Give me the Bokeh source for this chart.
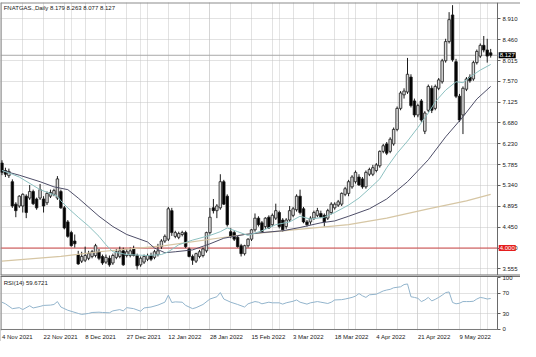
from bokeh.plotting import figure
from bokeh.layouts import column
from bokeh.models import (Range1d, FixedTicker, Grid, Span, Label, ColumnDataSource,
                          PrintfTickFormatter, BoxAnnotation)
from bokeh.embed import file_html
from bokeh.resources import INLINE

# ---------------- data ----------------
opens = [5.82, 5.66, 5.55, 5.42, 4.94, 4.90, 4.90, 5.11, 5.07, 5.21,
         5.05, 5.07, 5.05, 4.97, 5.11, 5.15, 5.07, 5.21, 4.86, 4.56,
         4.33, 4.15, 3.86, 3.72, 3.74, 3.78, 3.82, 3.84, 3.92, 3.82,
         3.70, 3.78, 3.68, 3.80, 3.82, 3.94, 3.84, 3.84, 3.98, 3.84,
         3.64, 3.70, 3.76, 3.84, 3.80, 3.86, 4.03, 4.15, 4.19, 4.80,
         4.25, 4.23, 4.29, 4.33, 3.98, 3.82, 3.72, 3.82, 3.84, 3.94,
         4.33, 4.86, 4.80, 4.86, 5.42, 5.11, 4.35, 4.33, 4.23, 4.05,
         3.88, 4.05, 4.19, 4.39, 4.64, 4.54, 4.46, 4.66, 4.50, 4.64,
         4.76, 4.60, 4.46, 4.60, 4.70, 4.82, 5.11, 4.84, 4.56, 4.56,
         4.64, 4.70, 4.74, 4.70, 4.64, 4.76, 4.86, 4.92, 4.94, 5.15,
         5.17, 5.31, 5.42, 5.52, 5.48, 5.31, 5.58, 5.58, 5.66, 5.76,
         6.07, 6.23, 6.07, 6.23, 6.54, 6.99, 7.28, 7.34, 7.66, 7.15,
         6.85, 7.15, 6.50, 6.95, 7.42, 6.99, 7.42, 7.56, 8.01, 8.42,
         8.99, 7.99, 7.25, 6.85, 7.40, 7.66, 7.62, 7.97, 8.11, 8.34,
         8.24, 8.179]
highs = [5.88, 5.72, 5.70, 5.47, 4.98, 5.13, 5.17, 5.15, 5.35, 5.25,
         5.08, 5.37, 5.11, 5.21, 5.25, 5.27, 5.54, 5.25, 4.90, 4.60,
         4.37, 4.29, 3.94, 3.92, 4.03, 3.94, 3.96, 4.09, 3.98, 3.86,
         3.86, 3.84, 3.88, 3.98, 4.03, 4.01, 3.98, 4.01, 4.05, 3.88,
         3.82, 3.86, 3.88, 3.90, 3.96, 4.09, 4.19, 4.29, 4.88, 4.86,
         4.37, 4.35, 4.37, 4.37, 4.01, 3.86, 3.90, 3.96, 4.01, 4.35,
         4.86, 5.05, 4.94, 5.58, 5.46, 5.15, 4.43, 4.37, 4.27, 4.09,
         4.07, 4.21, 4.41, 4.74, 4.68, 4.58, 4.66, 4.70, 4.74, 4.95,
         4.80, 4.64, 4.64, 4.90, 4.88, 5.15, 5.25, 4.88, 4.60, 4.68,
         4.80, 4.86, 4.80, 4.74, 4.84, 4.98, 4.98, 5.03, 5.19, 5.31,
         5.46, 5.56, 5.66, 5.58, 5.52, 5.66, 5.72, 5.78, 5.82, 6.09,
         6.23, 6.27, 6.37, 6.58, 7.03, 7.36, 7.42, 8.07, 7.72, 7.20,
         7.09, 7.19, 6.93, 7.50, 7.48, 7.50, 7.64, 8.05, 8.48, 9.05,
         9.20, 8.05, 7.30, 7.46, 7.66, 7.72, 8.01, 8.25, 8.38, 8.54,
         8.48, 8.263]
lows = [5.56, 5.52, 5.50, 4.86, 4.66, 4.86, 4.76, 4.64, 5.03, 4.92,
        4.82, 5.03, 4.76, 4.92, 5.07, 5.11, 5.03, 4.84, 4.40, 4.22,
        4.03, 4.01, 3.64, 3.68, 3.70, 3.74, 3.78, 3.80, 3.74, 3.64,
        3.66, 3.60, 3.64, 3.76, 3.78, 3.62, 3.80, 3.80, 3.82, 3.54,
        3.60, 3.66, 3.72, 3.72, 3.76, 3.82, 3.98, 4.11, 4.15, 4.26,
        4.21, 4.19, 4.25, 4.00, 3.80, 3.64, 3.68, 3.78, 3.80, 3.90,
        4.29, 4.74, 4.64, 4.82, 4.92, 4.46, 4.21, 4.15, 4.01, 3.82,
        3.84, 4.01, 4.15, 4.35, 4.46, 4.33, 4.41, 4.41, 4.46, 4.60,
        4.42, 4.35, 4.41, 4.56, 4.66, 4.78, 4.72, 4.53, 4.46, 4.50,
        4.60, 4.66, 4.64, 4.46, 4.60, 4.72, 4.82, 4.88, 4.90, 5.11,
        5.11, 5.27, 5.38, 5.33, 5.27, 5.27, 5.54, 5.54, 5.62, 5.72,
        6.03, 5.99, 6.03, 6.19, 6.50, 6.95, 7.20, 7.30, 7.01, 6.80,
        6.80, 6.70, 6.44, 6.91, 6.89, 6.95, 7.38, 7.52, 7.97, 8.38,
        7.99, 7.21, 6.70, 6.44, 7.36, 7.54, 7.58, 7.93, 8.07, 8.19,
        7.97, 8.077]
closes = [5.62, 5.58, 5.64, 4.90, 4.80, 5.11, 5.15, 4.76, 5.21, 4.95,
          4.86, 5.25, 4.90, 5.17, 5.19, 5.23, 5.48, 4.86, 4.43, 4.25,
          4.05, 4.09, 3.66, 3.82, 3.84, 3.88, 3.92, 4.05, 3.78, 3.68,
          3.80, 3.64, 3.84, 3.92, 3.94, 3.64, 3.92, 3.94, 3.84, 3.62,
          3.78, 3.82, 3.84, 3.76, 3.92, 3.94, 4.15, 4.25, 4.84, 4.33,
          4.33, 4.31, 4.33, 4.03, 3.82, 3.74, 3.88, 3.92, 3.98, 4.33,
          4.66, 4.80, 4.90, 5.42, 4.94, 4.50, 4.25, 4.19, 4.03, 3.88,
          4.05, 4.19, 4.39, 4.64, 4.50, 4.35, 4.64, 4.43, 4.70, 4.80,
          4.46, 4.39, 4.60, 4.80, 4.84, 5.11, 4.76, 4.56, 4.50, 4.64,
          4.76, 4.80, 4.66, 4.56, 4.80, 4.94, 4.94, 4.99, 5.17, 5.27,
          5.42, 5.52, 5.62, 5.35, 5.31, 5.62, 5.68, 5.72, 5.78, 6.07,
          6.19, 6.03, 6.33, 6.54, 6.99, 7.32, 7.36, 7.72, 7.05, 6.85,
          7.05, 6.74, 6.89, 7.46, 6.95, 7.46, 7.60, 8.01, 8.42, 8.89,
          8.03, 7.25, 6.74, 7.42, 7.62, 7.58, 7.97, 8.21, 8.34, 8.24,
          8.11, 8.127]

fast_ma_idx = [0, 3, 5, 11, 16, 17, 19, 22, 25, 28, 30, 32, 36, 42, 46, 48, 51, 55, 60, 63,
               65, 68, 71, 75, 79, 83, 86, 89, 93, 96, 100, 103, 106, 109, 111, 114, 117,
               120, 123, 125, 128, 131, 133, 135, 138, 141]
fast_ma = [5.66, 5.58, 5.52, 5.25, 5.11, 5.01, 4.86, 4.66, 4.47, 4.25, 4.07, 3.92, 3.86,
           3.84, 3.86, 3.92, 4.07, 4.17, 4.27, 4.35, 4.43, 4.35, 4.27, 4.37, 4.50, 4.56,
           4.68, 4.62, 4.66, 4.76, 4.92, 5.07, 5.27, 5.48, 5.72, 6.03, 6.29, 6.58, 6.89,
           7.13, 7.38, 7.56, 7.54, 7.66, 7.81, 7.93]

mid_ma_idx = [0, 5, 11, 15, 19, 22, 28, 32, 36, 42, 44, 47, 50, 55, 60, 64, 70, 75, 81, 86,
              92, 96, 100, 106, 111, 117, 123, 128, 133, 137, 141]
mid_ma = [5.66, 5.56, 5.42, 5.31, 5.25, 5.07, 4.68, 4.46, 4.29, 4.13, 4.00, 3.90, 3.92, 3.96,
          4.09, 4.21, 4.29, 4.33, 4.37, 4.44, 4.54, 4.58, 4.68, 4.84, 5.05, 5.42, 5.89, 6.38,
          6.81, 7.19, 7.46]

slow_ma_idx = [0, 17, 28, 47, 70, 84, 100, 111, 123, 134, 141]
slow_ma = [3.72, 3.82, 3.92, 4.05, 4.29, 4.39, 4.50, 4.64, 4.84, 5.01, 5.15]

rsi_idx = [0, 1, 3, 5, 6, 8, 9, 11, 12, 14, 15, 16, 17, 19, 22, 23, 25, 26, 28, 29,
           31, 32, 34, 35, 36, 38, 40, 41, 43, 45, 47, 48, 49, 50, 52, 53, 55, 56, 58, 60,
           62, 63, 64, 66, 68, 70, 71, 73, 74, 75, 77, 78, 80, 81, 82, 84, 85, 86, 88, 89,
           91, 92, 94, 95, 96, 98, 99, 101, 102, 103, 104, 105, 106, 108, 109, 110, 111, 112,
           113, 115, 116, 117, 118, 119, 120, 121, 122, 123, 124, 125, 126, 127, 128, 129,
           130, 131, 132, 133, 134, 135, 136, 137, 138, 139, 140, 141]
rsi = [52.5, 49.4, 40.1, 42.0, 38.3, 45.7, 41.4, 44.4, 46.3, 46.9,
       48.1, 53.7, 43.2, 37.0, 30.9, 29.0, 30.9, 32.7, 33.3, 32.7,
       32.1, 35.8, 38.3, 35.8, 42.0, 40.1, 35.2, 41.4, 43.2, 46.9,
       52.5, 66.0, 51.9, 53.1, 52.5, 46.3, 40.1, 42.0, 48.1, 58.6,
       63.0, 71.0, 58.6, 52.5, 48.1, 43.2, 49.4, 53.7, 52.5, 49.4,
       52.5, 51.3, 51.3, 48.8, 51.3, 54.3, 56.8, 52.5, 48.8, 51.3,
       53.7, 52.5, 50.0, 52.5, 56.8, 57.4, 58.6, 61.7, 64.2, 69.1,
       64.8, 61.7, 66.7, 67.9, 71.0, 74.1, 75.9, 77.2, 80.2, 82.1,
       86.4, 87.6, 63.0, 61.7, 60.0, 53.7, 56.8, 61.7, 54.9, 58.0,
       61.7, 66.0, 71.0, 72.2, 52.0, 49.4, 50.5, 53.7, 53.7, 53.7,
       54.3, 58.6, 61.7, 60.5, 58.6, 59.67]

price_ticks = [3.555, 4.000, 4.450, 4.895, 5.340, 5.785, 6.230, 6.680, 7.125, 7.570,
               8.015, 8.460, 8.910]
rsi_ticks = [0, 30, 70, 100]
rsi_levels = [30, 70]
grid_bars = [0, 6, 12, 18, 24, 30, 36, 42, 48, 54, 60, 66, 72, 78, 84, 90, 96, 102, 108,
             114, 120, 126, 132, 138]
date_bars = [0, 12, 24, 36, 48, 60, 72, 84, 96, 108, 120, 132]
date_labels = ["4 Nov 2021", "22 Nov 2021", "8 Dec 2021", "27 Dec 2021", "12 Jan 2022",
               "28 Jan 2022", "15 Feb 2022", "3 Mar 2022", "18 Mar 2022", "4 Apr 2022",
               "21 Apr 2022", "9 May 2022"]
support_level = 4.000
last_price = 8.127
header = "FNATGAS.,Daily  8.179 8.263 8.077 8.127"
rsi_header = "RSI(14) 59.6721"

# ---------------- layout / style ----------------
FONT = "Liberation Sans"
FS = "6px"
GRID_COLOR = "#c4c4c4"
FRAME = "#8c8c8c"
TEXT = "#202020"

X0, X1 = -0.42, 149.6        # full canvas width (bars + price-scale strip)
AXIS_X = 142.96              # where the price scale sits
PY0, PY1 = 3.412, 9.257
RY0, RY1 = -23.1, 103.85     # RSI panel incl. the date-label strip

xr = Range1d(X0, X1)

src = ColumnDataSource(dict(
    x=list(range(len(closes))), h=highs, l=lows,
    top=[max(o, c) for o, c in zip(opens, closes)],
    bottom=[min(o, c) for o, c in zip(opens, closes)],
    fill=["#dcdcdc" if c >= o else "#000000" for o, c in zip(opens, closes)],
))


def style_y(ax):
    ax.major_label_text_font = FONT
    ax.major_label_text_font_size = FS
    ax.major_label_text_color = TEXT
    ax.major_tick_out = 3
    ax.major_tick_in = 0
    ax.minor_tick_out = 0
    ax.minor_tick_in = 0
    ax.major_tick_line_color = "#606060"
    ax.axis_line_color = "#6a6a6a"
    ax.major_label_standoff = 2
    ax.fixed_location = AXIS_X


def mask(p, **kw):
    p.add_layout(BoxAnnotation(fill_color="white", fill_alpha=1.0, line_alpha=0.0,
                               level="underlay", **kw))


# ---- price panel
p1 = figure(width=520, height=275, x_range=xr, y_range=Range1d(PY0, PY1),
            x_axis_location=None, y_axis_location="right", toolbar_location=None,
            output_backend="svg", min_border_left=0, min_border_right=0,
            min_border_top=2, min_border_bottom=0)
p1.background_fill_color = "white"
p1.border_fill_color = "white"
p1.outline_line_color = None

p1.yaxis.ticker = FixedTicker(ticks=price_ticks)
p1.yaxis.formatter = PrintfTickFormatter(format="%.3f")
style_y(p1.yaxis[0])
p1.ygrid.grid_line_color = GRID_COLOR
p1.ygrid.grid_line_dash = "1 1"
p1.add_layout(Grid(dimension=0, ticker=FixedTicker(ticks=grid_bars),
                   grid_line_color=GRID_COLOR, grid_line_dash="1 1"))

p1.add_layout(Span(location=last_price, dimension="width", line_color="#a8a8a8",
                   line_width=1, level="underlay"))
p1.add_layout(Span(location=support_level, dimension="width", line_color="#d04848",
                   line_width=1, level="underlay"))
mask(p1, left=AXIS_X)
p1.add_layout(Span(location=PY1, dimension="width", line_color=FRAME, line_width=2,
                   level="underlay"))
p1.add_layout(Span(location=X0, dimension="height", line_color=FRAME, line_width=2,
                   level="underlay"))
p1.add_layout(Span(location=PY0, dimension="width", line_color="#6e6e6e", line_width=2,
                   level="underlay"))

p1.segment(x0="x", y0="l", x1="x", y1="h", source=src, line_color="#1a1a1a", line_width=1)
p1.vbar(x="x", top="top", bottom="bottom", width=0.72, source=src, fill_color="fill",
        line_color="#1a1a1a", line_width=0.8)

p1.line(slow_ma_idx, slow_ma, line_color="#d6c6a4", line_width=1.2)
p1.line(mid_ma_idx, mid_ma, line_color="#4e4e68", line_width=1)
p1.line(fast_ma_idx, fast_ma, line_color="#8cc0c0", line_width=1)

p1.add_layout(Label(x=0.5, y=9.14, text=header, text_font=FONT, text_font_size=FS,
                    text_color=TEXT, text_baseline="middle"))
p1.add_layout(Label(x=AXIS_X + 0.35, y=last_price, text=f"{last_price:.3f}", text_font=FONT,
                    text_font_size=FS, text_color="white", text_baseline="middle",
                    background_fill_color="#000000", padding=1))
p1.add_layout(Label(x=AXIS_X + 0.35, y=support_level, text=f"{support_level:.3f}",
                    text_font=FONT, text_font_size=FS, text_color="white",
                    text_baseline="middle", background_fill_color="#e41e1e", padding=1))

# ---- RSI panel (with date strip below)
p2 = figure(width=520, height=66, x_range=xr, y_range=Range1d(RY0, RY1),
            x_axis_location=None, y_axis_location="right", toolbar_location=None,
            output_backend="svg", min_border_left=0, min_border_right=0,
            min_border_top=0, min_border_bottom=0)
p2.background_fill_color = "white"
p2.border_fill_color = "white"
p2.outline_line_color = None
p2.yaxis.ticker = FixedTicker(ticks=rsi_ticks)
style_y(p2.yaxis[0])
p2.yaxis.bounds = (0, 100)
p2.ygrid.ticker = FixedTicker(ticks=rsi_levels)
p2.ygrid.grid_line_color = GRID_COLOR
p2.ygrid.grid_line_dash = "1 1"
p2.add_layout(Grid(dimension=0, ticker=FixedTicker(ticks=grid_bars),
                   grid_line_color=GRID_COLOR, grid_line_dash="1 1"))

p2.add_layout(Span(location=X0, dimension="height", line_color=FRAME, line_width=2,
                   level="underlay"))
p2.add_layout(Span(location=0, dimension="width", line_color="#7a7a7a", line_width=1,
                   level="underlay"))
mask(p2, top=-1.5)
mask(p2, left=AXIS_X)
p2.add_layout(Span(location=RY1, dimension="width", line_color="#6e6e6e", line_width=3,
                   level="underlay"))

p2.line(rsi_idx, rsi, line_color="#92b4cc", line_width=1)
p2.add_layout(Label(x=0.5, y=89, text=rsi_header, text_font=FONT, text_font_size=FS,
                    text_color=TEXT, text_baseline="middle"))

for b, s in zip(date_bars, date_labels):
    p2.add_layout(Label(x=b, y=-13.5, text=s, text_font=FONT, text_font_size=FS,
                        text_color=TEXT, text_baseline="middle", text_align="left"))

layout = column(p1, p2, spacing=0)
open("out.html", "w").write(file_html(layout, INLINE))
